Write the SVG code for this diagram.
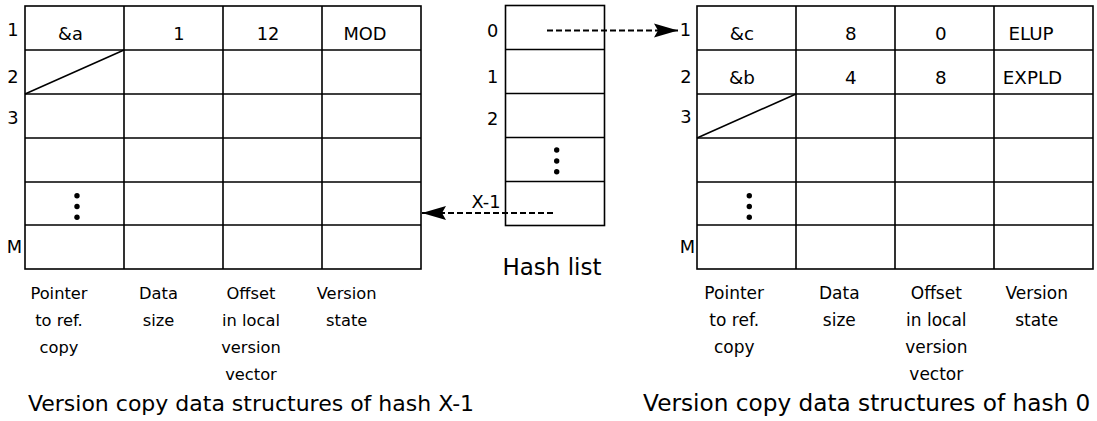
<svg xmlns="http://www.w3.org/2000/svg" width="1097" height="421" viewBox="0 0 1097 421">
<defs>
<style>
.grid{fill:none;stroke:#000;stroke-width:1.6}
.t{font-family:"DejaVu Sans",sans-serif;font-size:17.8px;fill:#000;text-anchor:middle}
.tr{font-size:18.3px}
.lab{font-family:"DejaVu Sans",sans-serif;font-size:16.3px;fill:#000;text-anchor:middle}
.labr{font-size:17px}
.title{font-family:"DejaVu Sans",sans-serif;font-size:22px;fill:#000;text-anchor:middle}
.dash{fill:none;stroke:#000;stroke-width:1.8;stroke-dasharray:6 3}
.dot{fill:#000}
</style>
<marker id="ah" markerUnits="userSpaceOnUse" markerWidth="26" markerHeight="16" refX="24" refY="8" orient="auto">
<path d="M0,1 L24,8 L0,15 L4,8 z" fill="#000"/>
</marker>
</defs>

<g id="table-left">
<rect class="grid" x="25" y="6" width="396" height="263"/>
<path class="grid" d="M124,6V269M223,6V269M322,6V269M25,50H421M25,94H421M25,138H421M25,182H421M25,225H421"/>
<path class="grid" d="M25,94L124,50"/>
<circle class="dot" cx="77" cy="195.7" r="2.7"/>
<circle class="dot" cx="77" cy="206.5" r="2.7"/>
<circle class="dot" cx="77" cy="217.3" r="2.7"/>
<text class="t" x="13" y="36">1</text>
<text class="t" x="13" y="83">2</text>
<text class="t" x="13" y="124">3</text>
<text class="t" x="14.5" y="253">M</text>
<text class="t" x="70.5" y="39.5">&amp;a</text>
<text class="t" x="179" y="39.5">1</text>
<text class="t" x="268" y="39.5">12</text>
<text class="t" x="365" y="39.5">MOD</text>
<text class="lab" x="59" y="299">Pointer</text>
<text class="lab" x="59" y="326">to ref.</text>
<text class="lab" x="59" y="353">copy</text>
<text class="lab" x="158.5" y="299">Data</text>
<text class="lab" x="158.5" y="326">size</text>
<text class="lab" x="251" y="299">Offset</text>
<text class="lab" x="251" y="326">in local</text>
<text class="lab" x="251" y="353">version</text>
<text class="lab" x="251" y="380">vector</text>
<text class="lab" x="346.7" y="299">Version</text>
<text class="lab" x="346.7" y="326">state</text>
<text class="title" x="251" y="411">Version copy data structures of hash X-1</text>
</g>

<g id="hash-list">
<rect class="grid" x="505.5" y="5.5" width="99" height="220"/>
<path class="grid" d="M505.5,49.5H604.5M505.5,93.5H604.5M505.5,137.5H604.5M505.5,181.5H604.5"/>
<circle class="dot" cx="556.7" cy="150" r="2.7"/>
<circle class="dot" cx="556.7" cy="161" r="2.7"/>
<circle class="dot" cx="556.7" cy="171.7" r="2.7"/>
<text class="t" x="492.7" y="37">0</text>
<text class="t" x="492.7" y="82.5">1</text>
<text class="t" x="492.7" y="124.5">2</text>
<text class="title" x="552" y="275" style="font-size:23px">Hash list</text>
</g>

<g id="table-right">
<rect class="grid" x="697" y="6" width="396" height="263"/>
<path class="grid" d="M796,6V269M895,6V269M994,6V269M697,50H1093M697,94H1093M697,138H1093M697,182H1093M697,225H1093"/>
<path class="grid" d="M697,138L796,94"/>
<circle class="dot" cx="749.3" cy="195.7" r="2.7"/>
<circle class="dot" cx="749.3" cy="206.5" r="2.7"/>
<circle class="dot" cx="749.3" cy="217.3" r="2.7"/>
<text class="t" x="685.5" y="36">1</text>
<text class="t" x="686" y="83">2</text>
<text class="t" x="686" y="123">3</text>
<text class="t" x="687.5" y="253">M</text>
<text class="t tr" x="742" y="39.5">&amp;c</text>
<text class="t tr" x="850.7" y="39.5">8</text>
<text class="t tr" x="940.7" y="39.5">0</text>
<text class="t tr" x="1031" y="39.5">ELUP</text>
<text class="t tr" x="742" y="83.5">&amp;b</text>
<text class="t tr" x="850.7" y="83.5">4</text>
<text class="t tr" x="940.7" y="83.5">8</text>
<text class="t tr" x="1032.5" y="83.5">EXPLD</text>
<text class="lab labr" x="734.2" y="299">Pointer</text>
<text class="lab labr" x="734.2" y="326">to ref.</text>
<text class="lab labr" x="734.2" y="353">copy</text>
<text class="lab labr" x="839.3" y="299">Data</text>
<text class="lab labr" x="839.3" y="326">size</text>
<text class="lab labr" x="936.3" y="299">Offset</text>
<text class="lab labr" x="936.3" y="326">in local</text>
<text class="lab labr" x="936.3" y="353">version</text>
<text class="lab labr" x="936.3" y="380">vector</text>
<text class="lab labr" x="1036.7" y="299">Version</text>
<text class="lab labr" x="1036.7" y="326">state</text>
<text class="title" x="866.7" y="411" style="font-size:23.2px">Version copy data structures of hash 0</text>
</g>

<g id="connectors">
<path class="dash" d="M547,30.5H678" marker-end="url(#ah)"/>
<path class="dash" d="M553,213H422" marker-end="url(#ah)"/>
<text class="t" x="486" y="208">X-1</text>
</g>
</svg>
